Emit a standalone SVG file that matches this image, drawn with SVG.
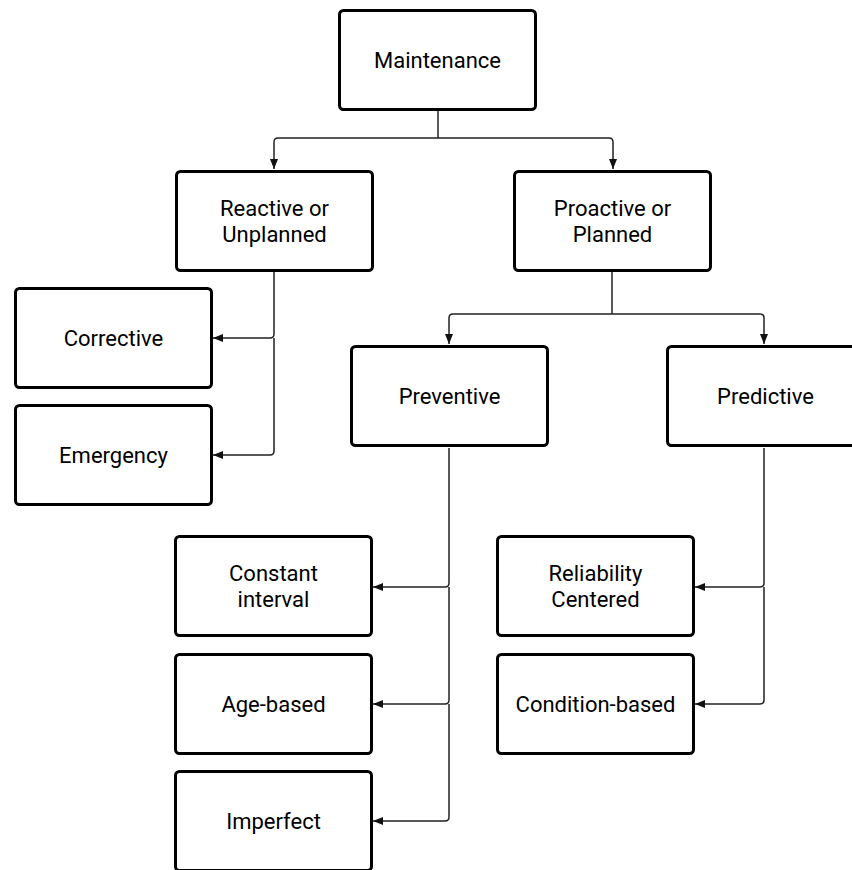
<svg xmlns="http://www.w3.org/2000/svg" width="852" height="870" viewBox="0 0 852 870">
  <defs>
    <marker id="arrow" viewBox="0 0 10 10" refX="10" refY="5" markerWidth="10" markerHeight="10" markerUnits="userSpaceOnUse" orient="auto">
      <path d="M0,1 L10,5 L0,9 Z" fill="#111"/>
    </marker>
    <style>
      .box { fill: #ffffff; stroke: #000000; stroke-width: 3; }
      .label { font-family: Roboto, "Liberation Sans", sans-serif; font-size: 22px; fill: #000000; text-anchor: middle; }
      .edge { fill: none; stroke: #222222; stroke-width: 1.5; }
    </style>
  </defs>
  <rect width="852" height="870" fill="#ffffff"/>

  <!-- connectors -->
  <g id="connectors">
    <path class="edge" d="M438 111 V138"/>
    <path class="edge" d="M438 138 H278 Q274 138 274 142 V169" marker-end="url(#arrow)"/>
    <path class="edge" d="M438 138 H609 Q613 138 613 142 V169" marker-end="url(#arrow)"/>

    <path class="edge" d="M274 272 V334 Q274 338 270 338 H213" marker-end="url(#arrow)"/>
    <path class="edge" d="M274 338 V451 Q274 455 270 455 H213" marker-end="url(#arrow)"/>

    <path class="edge" d="M612 272 V314"/>
    <path class="edge" d="M612 314 H453 Q449 314 449 318 V344" marker-end="url(#arrow)"/>
    <path class="edge" d="M612 314 H760 Q764 314 764 318 V344" marker-end="url(#arrow)"/>

    <path class="edge" d="M449 448 V583 Q449 587 445 587 H373" marker-end="url(#arrow)"/>
    <path class="edge" d="M449 587 V700 Q449 704 445 704 H373" marker-end="url(#arrow)"/>
    <path class="edge" d="M449 704 V817 Q449 821 445 821 H373" marker-end="url(#arrow)"/>

    <path class="edge" d="M764 448 V583 Q764 587 760 587 H695" marker-end="url(#arrow)"/>
    <path class="edge" d="M764 587 V700 Q764 704 760 704 H695" marker-end="url(#arrow)"/>
  </g>

  <!-- nodes -->
  <g id="maintenance">
    <rect class="box" x="339.5" y="10.5" width="196" height="99" rx="4"/>
    <text class="label" x="437.5" y="68">Maintenance</text>
  </g>
  <g id="reactive">
    <rect class="box" x="176.5" y="171.5" width="196" height="99" rx="4"/>
    <text class="label" x="274.5" y="216">Reactive or</text>
    <text class="label" x="274.5" y="242">Unplanned</text>
  </g>
  <g id="proactive">
    <rect class="box" x="514.5" y="171.5" width="196" height="99" rx="4"/>
    <text class="label" x="612.5" y="216">Proactive or</text>
    <text class="label" x="612.5" y="242">Planned</text>
  </g>
  <g id="corrective">
    <rect class="box" x="15.5" y="288.5" width="196" height="99" rx="4"/>
    <text class="label" x="113.5" y="346">Corrective</text>
  </g>
  <g id="emergency">
    <rect class="box" x="15.5" y="405.5" width="196" height="99" rx="4"/>
    <text class="label" x="113.5" y="463">Emergency</text>
  </g>
  <g id="preventive">
    <rect class="box" x="351.5" y="346.5" width="196" height="99" rx="4"/>
    <text class="label" x="449.5" y="404">Preventive</text>
  </g>
  <g id="predictive">
    <rect class="box" x="667.5" y="346.5" width="196" height="99" rx="4"/>
    <text class="label" x="765.5" y="404">Predictive</text>
  </g>
  <g id="constant-interval">
    <rect class="box" x="175.5" y="536.5" width="196" height="99" rx="4"/>
    <text class="label" x="273.5" y="581">Constant</text>
    <text class="label" x="273.5" y="607">interval</text>
  </g>
  <g id="age-based">
    <rect class="box" x="175.5" y="654.5" width="196" height="99" rx="4"/>
    <text class="label" x="273.5" y="712">Age-based</text>
  </g>
  <g id="imperfect">
    <rect class="box" x="175.5" y="771.5" width="196" height="99" rx="4"/>
    <text class="label" x="273.5" y="829">Imperfect</text>
  </g>
  <g id="reliability-centered">
    <rect class="box" x="497.5" y="536.5" width="196" height="99" rx="4"/>
    <text class="label" x="595.5" y="581">Reliability</text>
    <text class="label" x="595.5" y="607">Centered</text>
  </g>
  <g id="condition-based">
    <rect class="box" x="497.5" y="654.5" width="196" height="99" rx="4"/>
    <text class="label" x="595.5" y="712">Condition-based</text>
  </g>
</svg>
